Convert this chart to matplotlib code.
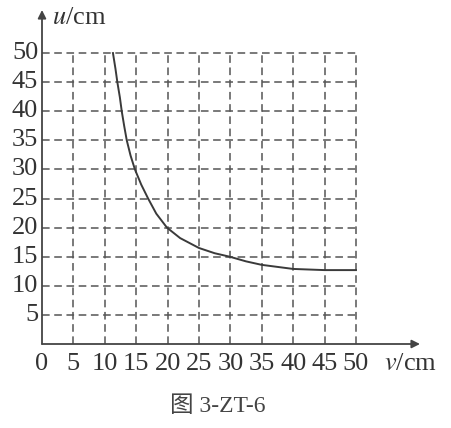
import numpy as np
import matplotlib
matplotlib.use("Agg")
from matplotlib import pyplot as plt

# values
v_cm = [11.3, 11.7, 12.0, 12.4, 12.7, 13.1, 13.5, 14.1, 14.8, 15.8, 16.9, 18.2, 19.9,
        22.0, 25.0, 27.5, 29.9, 32.5, 35.0, 40.0, 45.0, 50.0]
u_cm = [50.0, 47.3, 45.0, 42.4, 40.0, 37.4, 35.0, 32.4, 30.0, 27.4, 25.0, 22.4, 20.0,
        18.2, 16.5, 15.6, 15.0, 14.2, 13.6, 12.9, 12.7, 12.7]
grid_ticks = [0, 5, 10, 15, 20, 25, 30, 35, 40, 45, 50]
y_labels = ["5", "10", "15", "20", "25", "30", "35", "40", "45", "50"]
x_labels = ["0", "5", "10", "15", "20", "25", "30", "35", "40", "45", "50"]

plt.rcParams["font.family"] = ["Liberation Serif", "Noto Sans CJK SC"]

fig = plt.figure(figsize=(4.51, 4.28), dpi=100)
ax = fig.add_axes([42 / 451, 1 - 344 / 428, 378 / 451, 334 / 428])
ax.set_xlim(0, 60.2)
ax.set_ylim(0, 57.4)
for s in ax.spines.values():
    s.set_visible(False)
ax.set_xticks([])
ax.set_yticks([])

gc = "#555555"
dash = (0, (5, 3))
ax.hlines(grid_ticks[1:], 0, 50, colors=gc, linestyles=dash, linewidth=1.1)
ax.vlines(grid_ticks[1:], 0, 50, colors=gc, linestyles=dash, linewidth=1.1)

ax.plot(v_cm, u_cm, color="#3a3a3a", linewidth=1.4)

# axes with arrows
ax.annotate("", xy=(1, 0), xytext=(0, 0), xycoords="axes fraction",
            arrowprops=dict(arrowstyle="-|>", color="#444444", lw=1.3,
                            mutation_scale=12, shrinkA=0, shrinkB=0))
ax.annotate("", xy=(0, 1), xytext=(0, 0), xycoords="axes fraction",
            arrowprops=dict(arrowstyle="-|>", color="#444444", lw=1.3,
                            mutation_scale=12, shrinkA=0, shrinkB=0))

tc = "#333333"
for t, lab in zip(grid_ticks[1:], y_labels):
    ax.text(-0.6, t, lab, ha="right", va="center", fontsize=19, color=tc)
for t, lab in zip(grid_ticks, x_labels):
    ax.text(t, -3.4, lab, ha="center", va="center", fontsize=19, color=tc)

ax.text(1.6, 56.0, "$u$/cm", ha="left", va="center", fontsize=19, color=tc,
        math_fontfamily="stix")
ax.text(54.4, -3.4, "$v$/cm", ha="left", va="center", fontsize=19, color=tc,
        math_fontfamily="stix")
fig.text(218 / 451, 1 - 407 / 428, "图 3-ZT-6", ha="center", va="center",
         fontsize=17, color="#444444")

fig.savefig("out.png", dpi=100)
